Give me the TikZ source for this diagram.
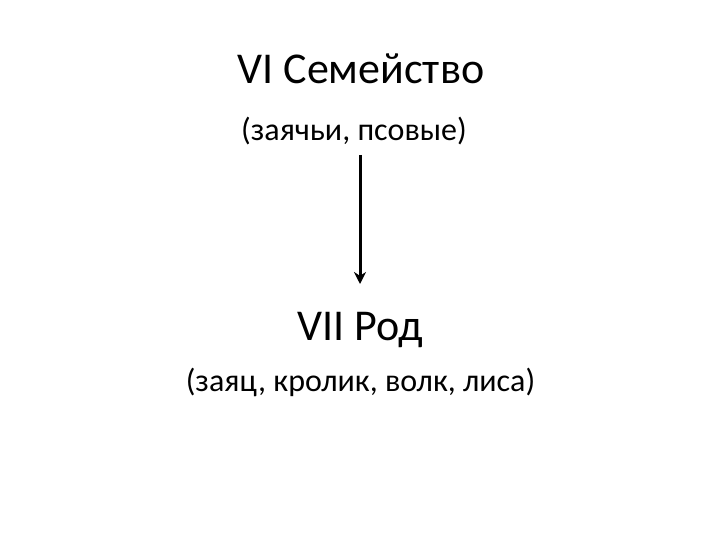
\documentclass[tikz,border=0pt]{standalone}
\usepackage{fontspec}
\setmainfont{Carlito}
\usetikzlibrary{arrows.meta}

\begin{document}
\begin{tikzpicture}[x=1pt,y=-1pt]
\tikzstyle{every node}+=[inner sep=0pt, anchor=base]
\tikzset{rank/.style={font=\fontsize{44}{52}\selectfont},
  members/.style={font=\fontsize{32}{38}\selectfont}}
\useasboundingbox [fill=white] (0,0) rectangle (720,540);
\node [rank] (family) at (361,84) {VI Семейство};
\node [members] (familyex) at (354,141) {(заячьи, псовые)};
\node [rank] (genus) at (360.5,340) {VII Род};
\node [members] (genusex) at (360.5,391) {(заяц, кролик, волк, лиса)};
\coordinate (arrtop) at (360,155);
\coordinate (arrbot) at (360,284);
\draw [black, line width=3pt, -{Stealth[length=12pt,width=12pt]}] (arrtop) -- (arrbot);
\end{tikzpicture}
\end{document}
